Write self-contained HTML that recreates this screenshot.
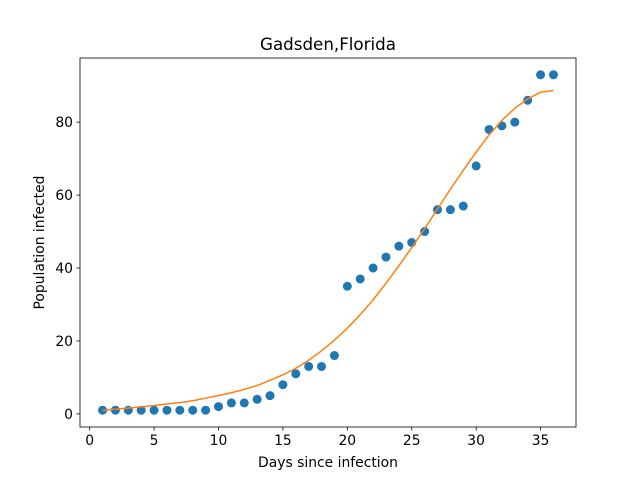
<!DOCTYPE html>
<html><head><meta charset="utf-8"><style>
body{margin:0;background:#fff;font-family:"DejaVu Sans","Liberation Sans",sans-serif}
</style></head><body>
<svg id="c" width="640" height="480" xmlns="http://www.w3.org/2000/svg" style="font-family:'DejaVu Sans','Liberation Sans',sans-serif">
<rect width="640" height="480" fill="#fff"/>
<g id="plot"></g>
</svg>
<script>
const days=[1,2,3,4,5,6,7,8,9,10,11,12,13,14,15,16,17,18,19,20,21,22,23,24,25,26,27,28,29,30,31,32,33,34,35,36];
const infected=[1,1,1,1,1,1,1,1,1,2,3,3,4,5,8,11,13,13,16,35,37,40,43,46,47,50,56,56,57,68,78,79,80,86,93,93];
const fitted=[1.0,1.3,1.6,1.9,2.3,2.7,3.1,3.6,4.3,5.0,5.8,6.7,7.8,9.2,10.7,12.5,14.7,17.3,20.2,23.5,27.2,31.3,35.8,40.6,45.6,50.8,56.2,61.6,66.8,71.8,76.5,80.5,83.8,86.4,88.2,88.7];
const xTicks=[0,5,10,15,20,25,30,35];
const yTicks=[0,20,40,60,80];
const L=80,R=576,T=58,B=427;
const xmin=-0.75,xmax=37.75,ymin=-3.6,ymax=97.6;
const sx=v=>L+(v-xmin)/(xmax-xmin)*(R-L);
const sy=v=>B-(v-ymin)/(ymax-ymin)*(B-T);
const NS="http://www.w3.org/2000/svg";
const g=document.getElementById('plot');
function mk(t,a,p){const e=document.createElementNS(NS,t);for(const k in a)e.setAttribute(k,a[k]);(p||g).appendChild(e);return e;}
days.forEach((d,i)=>{
  const c=mk('circle',{cx:sx(d),cy:sy(infected[i]),r:4.5,fill:'#1f77b4'});
  
  
});
const line=mk('polyline',{points:days.map((d,i)=>sx(d)+','+sy(fitted[i])).join(' '),fill:'none',stroke:'#ff7f0e','stroke-width':1.5});


const frame=mk('rect',{x:L,y:T,width:R-L,height:B-T,fill:'none',stroke:'#000','stroke-width':0.8});


xTicks.forEach(v=>{
  const x=sx(v);
  const tk=mk('line',{x1:x,x2:x,y1:B,y2:B+3.5,stroke:'#000','stroke-width':0.8});
  
  
  const t=mk('text',{x:x,y:B+18,'text-anchor':'middle','font-size':'13.9px'});
  t.textContent=v;
  
  
});
yTicks.forEach(v=>{
  const y=sy(v);
  const tk=mk('line',{x1:L-3.5,x2:L,y1:y,y2:y,stroke:'#000','stroke-width':0.8});
  
  
  const t=mk('text',{x:L-7,y:y+5,'text-anchor':'end','font-size':'13.9px'});
  t.textContent=v;
  
  
});
const title=mk('text',{x:(L+R)/2,y:50,'text-anchor':'middle','font-size':'16.7px'});
title.textContent='Gadsden,Florida';


const xl=mk('text',{x:(L+R)/2,y:467,'text-anchor':'middle','font-size':'13.9px'});
xl.textContent='Days since infection';


const yl=mk('text',{x:0,y:0,'text-anchor':'middle','font-size':'13.9px',transform:'translate(44,'+((T+B)/2)+') rotate(-90)'});
yl.textContent='Population infected';


</script>
</body></html>
